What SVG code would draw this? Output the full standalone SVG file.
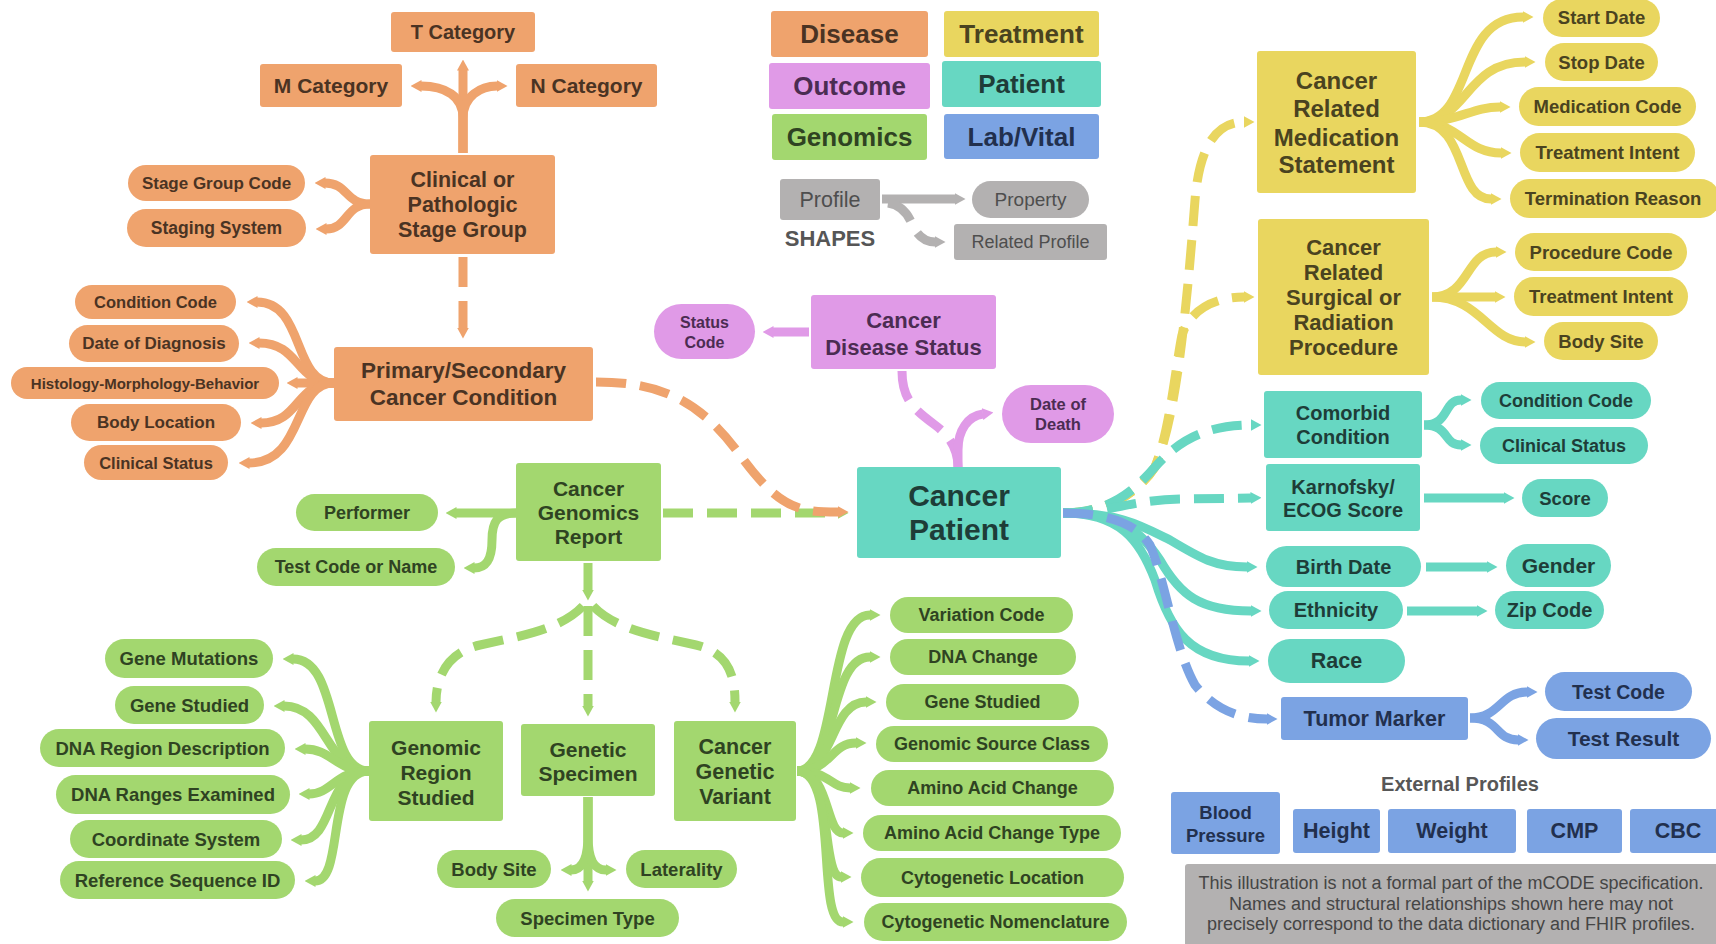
<svg xmlns="http://www.w3.org/2000/svg" width="1716" height="944" viewBox="0 0 1716 944">
<defs>
<style>
text{font-family:"Liberation Sans",Arial,sans-serif;font-weight:bold;text-anchor:middle;dominant-baseline:central}
.n{font-weight:normal}
.dis{fill:#EFA36D}.trt{fill:#E9D65F}.out{fill:#E09AE7}.pat{fill:#67D7C2}.gen{fill:#A3D76F}.lab{fill:#7BA3E3}.gry{fill:#B3B1B1}
.tdis{fill:#4A3323}.ttrt{fill:#4A4320}.tout{fill:#4B2C52}.tpat{fill:#1E3D38}.tgen{fill:#2F4322}.tlab{fill:#22304E}.tgry{fill:#4E4E4E}
path{fill:none;stroke-width:9}
.cdis{stroke:#EFA36D}.ctrt{stroke:#E9D65F}.cout{stroke:#E09AE7}.cpat{stroke:#67D7C2}.cgen{stroke:#A3D76F}.clab{stroke:#7BA3E3}.cgry{stroke:#B3B1B1}
.d{stroke-dasharray:30 14}
</style>
<marker id="mdis" viewBox="0 0 11 12" refX="0.5" refY="6" markerWidth="11" markerHeight="12" markerUnits="userSpaceOnUse" orient="auto"><polygon points="0,0 11,6 0,12" fill="#EFA36D"/></marker>
<marker id="mtrt" viewBox="0 0 11 12" refX="0.5" refY="6" markerWidth="11" markerHeight="12" markerUnits="userSpaceOnUse" orient="auto"><polygon points="0,0 11,6 0,12" fill="#E9D65F"/></marker>
<marker id="mout" viewBox="0 0 11 12" refX="0.5" refY="6" markerWidth="11" markerHeight="12" markerUnits="userSpaceOnUse" orient="auto"><polygon points="0,0 11,6 0,12" fill="#E09AE7"/></marker>
<marker id="mpat" viewBox="0 0 11 12" refX="0.5" refY="6" markerWidth="11" markerHeight="12" markerUnits="userSpaceOnUse" orient="auto"><polygon points="0,0 11,6 0,12" fill="#67D7C2"/></marker>
<marker id="mgen" viewBox="0 0 11 12" refX="0.5" refY="6" markerWidth="11" markerHeight="12" markerUnits="userSpaceOnUse" orient="auto"><polygon points="0,0 11,6 0,12" fill="#A3D76F"/></marker>
<marker id="mlab" viewBox="0 0 11 12" refX="0.5" refY="6" markerWidth="11" markerHeight="12" markerUnits="userSpaceOnUse" orient="auto"><polygon points="0,0 11,6 0,12" fill="#7BA3E3"/></marker>
<marker id="mgry" viewBox="0 0 11 12" refX="0.5" refY="6" markerWidth="11" markerHeight="12" markerUnits="userSpaceOnUse" orient="auto"><polygon points="0,0 11,6 0,12" fill="#B3B1B1"/></marker>
</defs>
<rect width="1716" height="944" fill="#ffffff"/>

<g id="connectors">
<!-- legend shapes -->
<path class="cgry" d="M882,199 L955,199" marker-end="url(#mgry)"/>
<path class="cgry d" d="M888,203 C902,205 908,214 913,226 C920,240 928,242 935,242" marker-end="url(#mgry)"/>
<!-- disease -->
<g marker-end="url(#mdis)">
<path class="cdis" d="M463,153 L463,70"/>
<path class="cdis" d="M463,153 L463,118 C463,96 445,86 421,86"/>
<path class="cdis" d="M463,153 L463,118 C463,96 481,86 497,86"/>
<path class="cdis" d="M370,204 C345,204 348,183 325,183"/>
<path class="cdis" d="M370,204 C345,204 348,229 326,229"/>
<path class="cdis" d="M334,383 C292,383 305,302 257,302"/>
<path class="cdis" d="M334,383 C295,383 300,343 259,343"/>
<path class="cdis" d="M334,383 L297,383"/>
<path class="cdis" d="M334,383 C295,383 300,423 261,423"/>
<path class="cdis" d="M334,383 C292,383 305,463 249,463"/>
<path class="cdis d" d="M463,257 L463,328"/>
</g>
<!-- genomics -->
<g marker-end="url(#mgen)">
<path class="cgen" d="M516,513 L456,513"/>
<path class="cgen" d="M516,513 C497,513 492,522 492,540 C492,560 486,568 474,568"/>
<path class="cgen" d="M588,563 L588,590"/>
<path class="cgen d" d="M663,513 L838,513"/>
<path class="cgen d" d="M588,606 L588,706"/>
<path class="cgen d" d="M583,606 C560,630 520,636 480,645 C445,653 436,680 436,702"/>
<path class="cgen d" d="M593,606 C616,630 656,636 696,645 C731,653 735,680 735,702"/>
<path class="cgen" d="M369,771 C325,771 340,659 293,659"/>
<path class="cgen" d="M369,771 C325,771 328,706 284,706"/>
<path class="cgen" d="M369,771 C335,771 332,749 305,749"/>
<path class="cgen" d="M369,771 C335,771 332,794 309,794"/>
<path class="cgen" d="M369,771 C325,771 335,840 301,840"/>
<path class="cgen" d="M369,771 C325,771 345,881 315,881"/>
<path class="cgen" d="M588,797 L588,881"/>
<path class="cgen" d="M588,797 L588,835 C588,860 582,870 571,870"/>
<path class="cgen" d="M588,797 L588,835 C588,860 594,870 606,870"/>
<path class="cgen" d="M797,771 C840,771 825,615 870,615"/>
<path class="cgen" d="M797,771 C838,771 828,657 870,657"/>
<path class="cgen" d="M797,771 C835,771 830,702 866,702"/>
<path class="cgen" d="M797,771 C832,771 830,743 856,743"/>
<path class="cgen" d="M797,771 C830,771 830,788 850,788"/>
<path class="cgen" d="M797,771 C830,771 825,833 843,833"/>
<path class="cgen" d="M797,771 C835,771 820,877 841,877"/>
<path class="cgen" d="M797,771 C840,771 815,922 843,922"/>
</g>
<path class="cdis d" d="M596,382 C660,382 700,400 740,455 S800,512 838,512" marker-end="url(#mdis)"/>
<!-- outcome -->
<path class="cout" d="M809,332 L773,332" marker-end="url(#mout)"/>
<path class="cout d" d="M902,371 C902,400 915,410 935,425 C950,436 958,450 958,467"/>
<path class="cout" d="M958,467 L958,450 C958,430 968,416 983,414" marker-end="url(#mout)"/>
<!-- treatment -->
<g marker-end="url(#mtrt)">
<path class="ctrt d" d="M1063,513 C1110,513 1140,490 1155,467 C1175,420 1185,330 1195,200 C1200,140 1220,122 1244,122"/>
<path class="ctrt d" d="M1063,513 C1110,513 1140,490 1155,467 C1170,430 1175,370 1182,335 C1190,310 1215,297 1244,297"/>
<path class="ctrt" d="M1419,122 C1475,122 1455,17 1523,17"/>
<path class="ctrt" d="M1419,122 C1468,122 1465,62 1525,62"/>
<path class="ctrt" d="M1419,122 C1460,122 1470,107 1500,107"/>
<path class="ctrt" d="M1419,122 C1460,122 1465,153 1501,153"/>
<path class="ctrt" d="M1419,122 C1468,122 1455,199 1491,199"/>
<path class="ctrt" d="M1432,297 C1470,297 1465,252 1496,252"/>
<path class="ctrt" d="M1432,297 L1495,297"/>
<path class="ctrt" d="M1432,297 C1480,297 1490,342 1525,342"/>
</g>
<!-- patient -->
<g marker-end="url(#mpat)">
<path class="cpat d" d="M1063,513 C1110,513 1135,490 1155,467 C1175,445 1200,425 1251,425"/>
<path class="cpat d" d="M1063,513 C1110,513 1130,500 1180,499 L1251,498"/>
<path class="cpat" d="M1063,513 C1120,513 1140,525 1170,540 C1200,558 1215,567 1247,567"/>
<path class="cpat" d="M1063,513 C1120,513 1140,530 1160,560 C1180,595 1200,611 1251,611"/>
<path class="cpat" d="M1063,513 C1120,513 1140,540 1155,580 C1170,630 1190,661 1249,661"/>
<path class="cpat" d="M1424,498 L1504,498"/>
<path class="cpat" d="M1426,567 L1487,567"/>
<path class="cpat" d="M1407,611 L1477,611"/>
<path class="cpat" d="M1424,425 C1450,425 1443,400 1461,400"/>
<path class="cpat" d="M1424,425 C1450,425 1443,445 1461,445"/>
</g>
<!-- lab/vital -->
<g marker-end="url(#mlab)">
<path class="clab d" d="M1063,513 C1120,513 1140,530 1150,545 C1165,580 1175,650 1195,685 C1215,710 1240,719 1267,719"/>
<path class="clab" d="M1470,718 C1500,718 1500,692 1527,692"/>
<path class="clab" d="M1470,718 C1500,718 1495,740 1518,740"/>
</g>
</g>

<!-- legend -->
<g id="legend-disease"><rect class="dis" x="771" y="11" width="157" height="46" rx="3"/><text class="tdis" x="849.5" y="34" font-size="26">Disease</text></g>
<g id="legend-treatment"><rect class="trt" x="944" y="11" width="155" height="46" rx="3"/><text class="ttrt" x="1021.5" y="34" font-size="26">Treatment</text></g>
<g id="legend-outcome"><rect class="out" x="769" y="63" width="161" height="46" rx="3"/><text class="tout" x="849.5" y="86" font-size="26">Outcome</text></g>
<g id="legend-patient"><rect class="pat" x="942" y="61" width="159" height="46" rx="3"/><text class="tpat" x="1021.5" y="84" font-size="26">Patient</text></g>
<g id="legend-genomics"><rect class="gen" x="772" y="114" width="155" height="46" rx="3"/><text class="tgen" x="849.5" y="137" font-size="26">Genomics</text></g>
<g id="legend-labvital"><rect class="lab" x="944" y="114" width="155" height="45" rx="3"/><text class="tlab" x="1021.5" y="136.5" font-size="26">Lab/Vital</text></g>
<g id="legend-profile"><rect class="gry" x="780" y="179" width="100" height="41" rx="3"/><text class="tgry n" x="830" y="199.5" font-size="21.5">Profile</text></g>
<g id="legend-shapes"><text x="830" y="238" font-size="22" fill="#565656">SHAPES</text></g>
<g id="legend-property"><rect class="gry" x="972" y="181" width="117" height="37" rx="18.5"/><text class="tgry n" x="1030.5" y="199.5" font-size="19">Property</text></g>
<g id="legend-related"><rect class="gry" x="954" y="224" width="153" height="36" rx="3"/><text class="tgry n" x="1030.5" y="242" font-size="18">Related Profile</text></g>

<!-- disease nodes -->
<g id="t-category"><rect class="dis" x="391" y="12" width="144" height="40" rx="3"/><text class="tdis" x="463" y="32" font-size="20">T Category</text></g>
<g id="m-category"><rect class="dis" x="260" y="64" width="142" height="43" rx="3"/><text class="tdis" x="331" y="85.5" font-size="21">M Category</text></g>
<g id="n-category"><rect class="dis" x="516" y="64" width="141" height="43" rx="3"/><text class="tdis" x="586.5" y="85.5" font-size="21">N Category</text></g>
<g id="stage-group"><rect class="dis" x="370" y="155" width="185" height="99" rx="3"/><text class="tdis" font-size="21.5"><tspan x="462.5" y="180">Clinical or</tspan><tspan x="462.5" y="205">Pathologic</tspan><tspan x="462.5" y="230">Stage Group</tspan></text></g>
<g id="stage-group-code"><rect class="dis" x="128" y="165" width="177" height="36" rx="18"/><text class="tdis" x="216.5" y="183" font-size="17">Stage Group Code</text></g>
<g id="staging-system"><rect class="dis" x="127" y="209" width="179" height="38" rx="19"/><text class="tdis" x="216.5" y="228" font-size="17.5">Staging System</text></g>
<g id="primary-condition"><rect class="dis" x="334" y="347" width="259" height="74" rx="3"/><text class="tdis" font-size="22.5"><tspan x="463.5" y="370">Primary/Secondary</tspan><tspan x="463.5" y="397">Cancer Condition</tspan></text></g>
<g id="condition-code"><rect class="dis" x="75" y="285" width="161" height="34" rx="17"/><text class="tdis" x="155.5" y="302" font-size="16.5">Condition Code</text></g>
<g id="date-of-diagnosis"><rect class="dis" x="69" y="325" width="170" height="37" rx="18.5"/><text class="tdis" x="154" y="343.5" font-size="17">Date of Diagnosis</text></g>
<g id="histology"><rect class="dis" x="11" y="367" width="268" height="32" rx="16"/><text class="tdis" x="145" y="383" font-size="15">Histology-Morphology-Behavior</text></g>
<g id="body-location"><rect class="dis" x="71" y="404" width="170" height="37" rx="18.5"/><text class="tdis" x="156" y="422.5" font-size="17">Body Location</text></g>
<g id="clinical-status"><rect class="dis" x="84" y="445" width="144" height="35" rx="17.5"/><text class="tdis" x="156" y="462.5" font-size="16.5">Clinical Status</text></g>

<!-- genomics nodes -->
<g id="genomics-report"><rect class="gen" x="516" y="463" width="145" height="98" rx="3"/><text class="tgen" font-size="21"><tspan x="588.5" y="488">Cancer</tspan><tspan x="588.5" y="512">Genomics</tspan><tspan x="588.5" y="536">Report</tspan></text></g>
<g id="performer"><rect class="gen" x="296" y="494" width="142" height="37" rx="18.5"/><text class="tgen" x="367" y="512.5" font-size="18">Performer</text></g>
<g id="test-code-name"><rect class="gen" x="257" y="548" width="198" height="38" rx="19"/><text class="tgen" x="356" y="567" font-size="18">Test Code or Name</text></g>
<g id="genomic-region"><rect class="gen" x="369" y="721" width="134" height="100" rx="3"/><text class="tgen" font-size="21"><tspan x="436" y="747">Genomic</tspan><tspan x="436" y="772">Region</tspan><tspan x="436" y="797">Studied</tspan></text></g>
<g id="genetic-specimen"><rect class="gen" x="521" y="724" width="134" height="72" rx="3"/><text class="tgen" font-size="21"><tspan x="588" y="749">Genetic</tspan><tspan x="588" y="773">Specimen</tspan></text></g>
<g id="genetic-variant"><rect class="gen" x="674" y="721" width="122" height="100" rx="3"/><text class="tgen" font-size="21.5"><tspan x="735" y="747">Cancer</tspan><tspan x="735" y="772">Genetic</tspan><tspan x="735" y="797">Variant</tspan></text></g>
<g id="gene-mutations"><rect class="gen" x="105" y="639" width="168" height="39" rx="19.5"/><text class="tgen" x="189" y="658.5" font-size="18.5">Gene Mutations</text></g>
<g id="gene-studied-1"><rect class="gen" x="115" y="686" width="149" height="38" rx="19"/><text class="tgen" x="189.5" y="705" font-size="18.5">Gene Studied</text></g>
<g id="dna-region"><rect class="gen" x="40" y="729" width="245" height="38" rx="19"/><text class="tgen" x="162.5" y="748" font-size="18.5">DNA Region Description</text></g>
<g id="dna-ranges"><rect class="gen" x="56" y="775" width="234" height="39" rx="19.5"/><text class="tgen" x="173" y="794.5" font-size="18.5">DNA Ranges Examined</text></g>
<g id="coordinate-system"><rect class="gen" x="70" y="820" width="212" height="38" rx="19"/><text class="tgen" x="176" y="839" font-size="18.5">Coordinate System</text></g>
<g id="reference-sequence"><rect class="gen" x="60" y="861" width="235" height="38" rx="19"/><text class="tgen" x="177.5" y="880" font-size="18.5">Reference Sequence ID</text></g>
<g id="body-site-1"><rect class="gen" x="437" y="850" width="114" height="38" rx="19"/><text class="tgen" x="494" y="869" font-size="18.5">Body Site</text></g>
<g id="laterality"><rect class="gen" x="626" y="850" width="111" height="38" rx="19"/><text class="tgen" x="681.5" y="869" font-size="18.5">Laterality</text></g>
<g id="specimen-type"><rect class="gen" x="496" y="899" width="183" height="38" rx="19"/><text class="tgen" x="587.5" y="918" font-size="18.5">Specimen Type</text></g>
<g id="variation-code"><rect class="gen" x="890" y="597" width="183" height="36" rx="18"/><text class="tgen" x="981.5" y="615" font-size="18">Variation Code</text></g>
<g id="dna-change"><rect class="gen" x="890" y="639" width="186" height="36" rx="18"/><text class="tgen" x="983" y="657" font-size="18">DNA Change</text></g>
<g id="gene-studied-2"><rect class="gen" x="886" y="684" width="193" height="36" rx="18"/><text class="tgen" x="982.5" y="702" font-size="18">Gene Studied</text></g>
<g id="genomic-source"><rect class="gen" x="876" y="726" width="232" height="36" rx="18"/><text class="tgen" x="992" y="744" font-size="18">Genomic Source Class</text></g>
<g id="amino-acid"><rect class="gen" x="871" y="770" width="243" height="36" rx="18"/><text class="tgen" x="992.5" y="788" font-size="18">Amino Acid Change</text></g>
<g id="amino-acid-type"><rect class="gen" x="863" y="815" width="258" height="36" rx="18"/><text class="tgen" x="992" y="833" font-size="18">Amino Acid Change Type</text></g>
<g id="cyto-location"><rect class="gen" x="861" y="858" width="263" height="39" rx="19.5"/><text class="tgen" x="992.5" y="877.5" font-size="18">Cytogenetic Location</text></g>
<g id="cyto-nomenclature"><rect class="gen" x="864" y="903" width="263" height="38" rx="19"/><text class="tgen" x="995.5" y="922" font-size="18">Cytogenetic Nomenclature</text></g>

<!-- outcome nodes -->
<g id="disease-status"><rect class="out" x="811" y="295" width="185" height="74" rx="3"/><text class="tout" font-size="22"><tspan x="903.5" y="320">Cancer</tspan><tspan x="903.5" y="347">Disease Status</tspan></text></g>
<g id="status-code"><rect class="out" x="654" y="304" width="101" height="55" rx="27.5"/><text class="tout" font-size="16"><tspan x="704.5" y="322">Status</tspan><tspan x="704.5" y="342">Code</tspan></text></g>
<g id="date-of-death"><rect class="out" x="1002" y="385" width="112" height="58" rx="29"/><text class="tout" font-size="16.5"><tspan x="1058" y="404">Date of</tspan><tspan x="1058" y="424">Death</tspan></text></g>

<!-- patient nodes -->
<g id="cancer-patient"><rect class="pat" x="857" y="467" width="204" height="91" rx="3"/><text class="tpat" font-size="30"><tspan x="959" y="495">Cancer</tspan><tspan x="959" y="529">Patient</tspan></text></g>
<g id="comorbid"><rect class="pat" x="1264" y="391" width="158" height="67" rx="3"/><text class="tpat" font-size="20"><tspan x="1343" y="413">Comorbid</tspan><tspan x="1343" y="437">Condition</tspan></text></g>
<g id="karnofsky"><rect class="pat" x="1266" y="464" width="154" height="67" rx="3"/><text class="tpat" font-size="20"><tspan x="1343" y="487">Karnofsky/</tspan><tspan x="1343" y="510">ECOG Score</tspan></text></g>
<g id="birth-date"><rect class="pat" x="1266" y="546" width="155" height="41" rx="20.5"/><text class="tpat" x="1343.5" y="566.5" font-size="20">Birth Date</text></g>
<g id="ethnicity"><rect class="pat" x="1269" y="591" width="134" height="38" rx="19"/><text class="tpat" x="1336" y="610" font-size="20">Ethnicity</text></g>
<g id="race"><rect class="pat" x="1268" y="639" width="137" height="44" rx="22"/><text class="tpat" x="1336.5" y="661" font-size="21.5">Race</text></g>
<g id="condition-code-2"><rect class="pat" x="1481" y="382" width="170" height="37" rx="18.5"/><text class="tpat" x="1566" y="400.5" font-size="18">Condition Code</text></g>
<g id="clinical-status-2"><rect class="pat" x="1480" y="427" width="168" height="37" rx="18.5"/><text class="tpat" x="1564" y="445.5" font-size="18">Clinical Status</text></g>
<g id="score"><rect class="pat" x="1522" y="479" width="86" height="38" rx="19"/><text class="tpat" x="1565" y="498" font-size="18.5">Score</text></g>
<g id="gender"><rect class="pat" x="1506" y="544" width="105" height="43" rx="21.5"/><text class="tpat" x="1558.5" y="565.5" font-size="21">Gender</text></g>
<g id="zip-code"><rect class="pat" x="1495" y="591" width="109" height="38" rx="19"/><text class="tpat" x="1549.5" y="610" font-size="20">Zip Code</text></g>

<!-- treatment nodes -->
<g id="medication-statement"><rect class="trt" x="1257" y="51" width="159" height="142" rx="3"/><text class="ttrt" font-size="24"><tspan x="1336.5" y="80">Cancer</tspan><tspan x="1336.5" y="108">Related</tspan><tspan x="1336.5" y="137">Medication</tspan><tspan x="1336.5" y="164">Statement</tspan></text></g>
<g id="procedure"><rect class="trt" x="1258" y="219" width="171" height="156" rx="3"/><text class="ttrt" font-size="22"><tspan x="1343.5" y="247">Cancer</tspan><tspan x="1343.5" y="272">Related</tspan><tspan x="1343.5" y="297">Surgical or</tspan><tspan x="1343.5" y="322">Radiation</tspan><tspan x="1343.5" y="347">Procedure</tspan></text></g>
<g id="start-date"><rect class="trt" x="1543" y="-1" width="117" height="38" rx="19"/><text class="ttrt" x="1601.5" y="17.5" font-size="18.5">Start Date</text></g>
<g id="stop-date"><rect class="trt" x="1545" y="43" width="113" height="38" rx="19"/><text class="ttrt" x="1601.5" y="62" font-size="18.5">Stop Date</text></g>
<g id="medication-code"><rect class="trt" x="1519" y="87" width="177" height="39" rx="19.5"/><text class="ttrt" x="1607.5" y="106.5" font-size="18.5">Medication Code</text></g>
<g id="treatment-intent-1"><rect class="trt" x="1520" y="133" width="175" height="39" rx="19.5"/><text class="ttrt" x="1607.5" y="152.5" font-size="18.5">Treatment Intent</text></g>
<g id="termination-reason"><rect class="trt" x="1510" y="179" width="210" height="39" rx="19.5"/><text class="ttrt" x="1613" y="198.5" font-size="18.5">Termination Reason</text></g>
<g id="procedure-code"><rect class="trt" x="1515" y="233" width="172" height="38" rx="19"/><text class="ttrt" x="1601" y="252" font-size="18.5">Procedure Code</text></g>
<g id="treatment-intent-2"><rect class="trt" x="1514" y="277" width="174" height="39" rx="19.5"/><text class="ttrt" x="1601" y="296.5" font-size="18.5">Treatment Intent</text></g>
<g id="body-site-2"><rect class="trt" x="1544" y="322" width="114" height="38" rx="19"/><text class="ttrt" x="1601" y="341" font-size="18.5">Body Site</text></g>

<!-- lab/vital nodes -->
<g id="tumor-marker"><rect class="lab" x="1281" y="697" width="187" height="43" rx="3"/><text class="tlab" x="1374.5" y="718.5" font-size="21.5">Tumor Marker</text></g>
<g id="test-code"><rect class="lab" x="1545" y="672" width="147" height="39" rx="19.5"/><text class="tlab" x="1618.5" y="691.5" font-size="19.5">Test Code</text></g>
<g id="test-result"><rect class="lab" x="1536" y="718" width="175" height="41" rx="20.5"/><text class="tlab" x="1623.5" y="738.5" font-size="21">Test Result</text></g>
<g id="external-profiles-title"><text x="1460" y="784" font-size="20" fill="#575757">External Profiles</text></g>
<g id="blood-pressure"><rect class="lab" x="1171" y="792" width="109" height="62" rx="3"/><text class="tlab" font-size="18.5"><tspan x="1225.5" y="812">Blood</tspan><tspan x="1225.5" y="835">Pressure</tspan></text></g>
<g id="height"><rect class="lab" x="1293" y="809" width="87" height="44" rx="3"/><text class="tlab" x="1336.5" y="831" font-size="21.5">Height</text></g>
<g id="weight"><rect class="lab" x="1388" y="809" width="128" height="44" rx="3"/><text class="tlab" x="1452" y="831" font-size="21.5">Weight</text></g>
<g id="cmp"><rect class="lab" x="1527" y="809" width="95" height="44" rx="3"/><text class="tlab" x="1574.5" y="831" font-size="21.5">CMP</text></g>
<g id="cbc"><rect class="lab" x="1630" y="809" width="92" height="44" rx="3"/><text class="tlab" x="1678" y="831" font-size="21.5">CBC</text></g>

<!-- disclaimer -->
<g id="disclaimer"><rect class="gry" x="1185" y="864" width="540" height="84" rx="3"/><text class="n" font-size="18" fill="#454545"><tspan x="1451" y="883">This illustration is not a formal part of the mCODE specification.</tspan><tspan x="1451" y="904">Names and structural relationships shown here may not</tspan><tspan x="1451" y="924">precisely correspond to the data dictionary and FHIR profiles.</tspan></text></g>
</svg>
